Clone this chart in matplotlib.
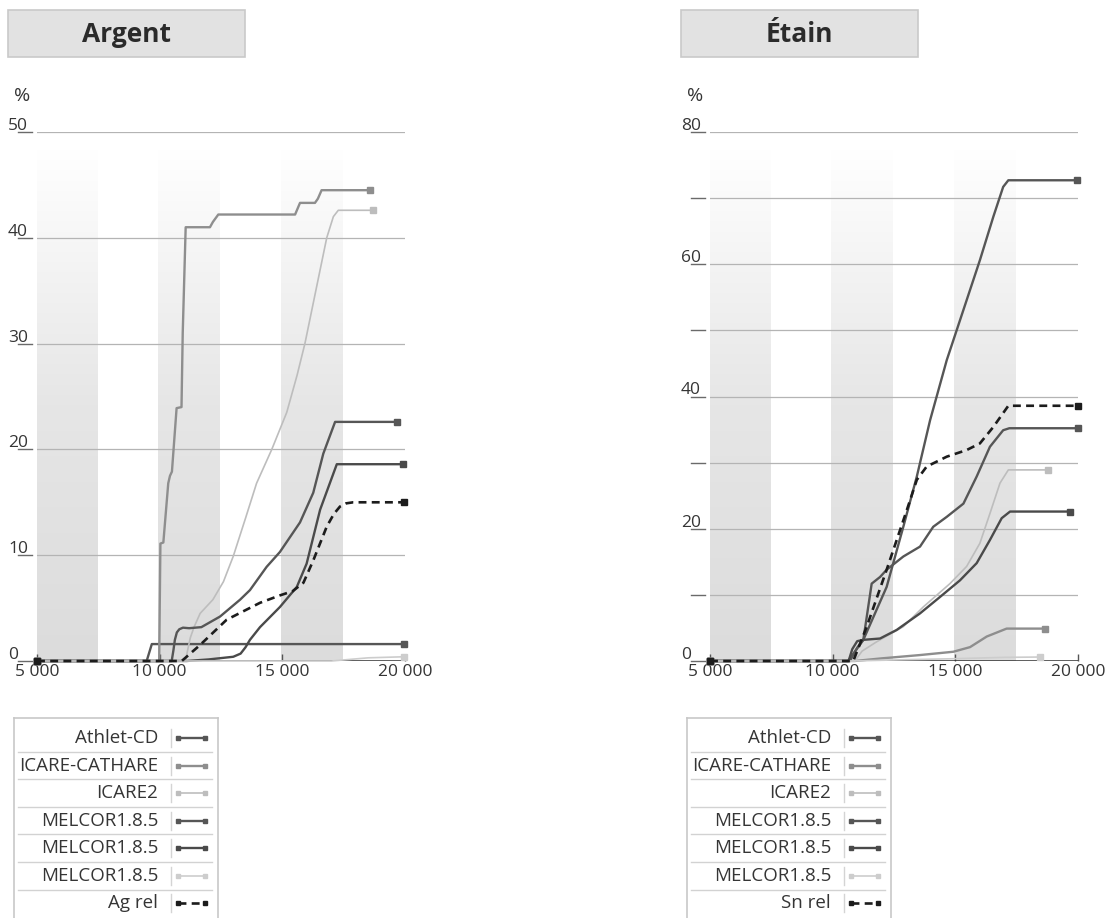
import numpy as np
import matplotlib
matplotlib.use("Agg")
import matplotlib.pyplot as plt
from matplotlib.colors import LinearSegmentedColormap
from matplotlib.patches import Rectangle

plt.rcParams['font.family'] = ['Open Sans', 'DejaVu Sans']

# ---------------------------------------------------------------- data
series_names = ["Athlet-CD", "ICARE-CATHARE", "ICARE2",
                "MELCOR1.8.5", "MELCOR1.8.5", "MELCOR1.8.5"]

# Argent (Ag)
ag_athlet_x = [5000, 9470, 9680, 19950]
ag_athlet_y = [0, 0, 1.6, 1.6]

ag_icare_cathare_x = [5000, 9980, 10030, 10150, 10350, 10420, 10500, 10690, 10890,
                      10940, 11060, 12050, 12170, 12390, 15520, 15720, 16330, 16450,
                      16600, 18570]
ag_icare_cathare_y = [0, 0, 11.1, 11.2, 16.8, 17.5, 17.9, 23.9, 24.0,
                      31.0, 41.0, 41.0, 41.5, 42.2, 42.2, 43.3, 43.3, 43.7,
                      44.5, 44.5]

ag_icare2_x = [5000, 11050, 11120, 11250, 11400, 11650, 12170, 12600, 13000, 13500,
               13950, 14570, 15180, 15600, 15920, 16400, 16810, 17080, 17280, 18710]
ag_icare2_y = [0, 0, 0.8, 2.2, 3.2, 4.5, 5.8, 7.5, 9.9, 13.5,
               16.8, 20.0, 23.5, 27.0, 30.0, 35.4, 40.0, 42.0, 42.6, 42.6]

ag_melcor_a_x = [5000, 10490, 10560, 10620, 10700, 10800, 10950, 11200, 11700, 12460,
                 13280, 13680, 14360, 14900, 15720, 16260, 16670, 17150, 19660]
ag_melcor_a_y = [0, 0, 1.0, 2.0, 2.7, 3.0, 3.15, 3.1, 3.2, 4.2,
                 5.8, 6.7, 8.9, 10.3, 13.1, 15.9, 19.6, 22.6, 22.6]

ag_melcor_b_x = [5000, 11100, 12000, 13000, 13300, 13500, 13680, 14090, 14900, 15590,
                 15990, 16540, 17220, 19930]
ag_melcor_b_y = [0, 0, 0.15, 0.4, 0.7, 1.3, 2.0, 3.2, 5.1, 7.0,
                 9.2, 14.3, 18.6, 18.6]

ag_melcor_c_x = [5000, 17000, 18500, 19950]
ag_melcor_c_y = [0, 0, 0.3, 0.4]

ag_rel_x = [5000, 10900, 11640, 12730, 14090, 14900, 15420, 15860, 16260, 16810,
            17100, 17350, 17600, 17890, 19950]
ag_rel_y = [0, 0, 1.5, 3.9, 5.5, 6.2, 6.6, 7.4, 9.5, 12.7,
            13.9, 14.6, 14.9, 15.0, 15.0]

# Etain (Sn)
sn_athlet_x = [5000, 10630, 11250, 12200, 12880, 13430, 13970, 14650, 15330, 16000,
               16550, 16950, 17160, 19950]
sn_athlet_y = [0, 0, 3.2, 11.2, 20.3, 27.9, 36.4, 45.5, 53.1, 60.6,
               67.2, 71.7, 72.7, 72.7]

sn_icare_cathare_x = [5000, 10900, 12000, 13560, 14920, 15600, 16280, 17090, 18650]
sn_icare_cathare_y = [0, 0, 0.4, 0.9, 1.4, 2.1, 3.7, 4.9, 4.9]

sn_icare2_x = [5000, 10900, 11200, 11790, 12880, 13700, 14780, 15460, 16000, 16410,
               16820, 17160, 18790]
sn_icare2_y = [0, 0, 1.5, 2.9, 5.2, 8.2, 11.7, 14.3, 17.8, 22.3,
               26.9, 28.9, 28.9]

sn_melcor_a_x = [5000, 10700, 11000, 11250, 11590, 11930, 12200, 12880, 13560, 14100,
                 14650, 15330, 15870, 16410, 16950, 17200, 20000]
sn_melcor_a_y = [0, 0, 2.0, 3.2, 11.7, 12.7, 13.8, 15.8, 17.3, 20.3,
                 21.8, 23.8, 27.9, 32.4, 34.9, 35.2, 35.2]

sn_melcor_b_x = [5000, 10650, 10800, 11000, 11250, 11930, 12610, 13560, 14380, 15190,
                 15870, 16410, 16890, 17230, 19670]
sn_melcor_b_y = [0, 0, 1.8, 3.0, 3.2, 3.4, 4.7, 7.2, 9.7, 12.2,
                 14.8, 18.3, 21.6, 22.6, 22.6]

sn_melcor_c_x = [5000, 10800, 13000, 15000, 17000, 18450]
sn_melcor_c_y = [0, 0, 0.2, 0.35, 0.55, 0.6]

sn_rel_x = [5000, 10840, 11390, 12200, 13020, 13430, 13830, 14650, 15460, 16000,
            16550, 17160, 20000]
sn_rel_y = [0, 0, 5.2, 13.8, 22.8, 27.4, 29.4, 30.9, 31.9, 32.9,
            35.4, 38.6, 38.6]

x_ticks = [5000, 10000, 15000, 20000]
ag_y_grid = [10, 20, 30, 40, 50]
ag_y_labels = [0, 10, 20, 30, 40, 50]
sn_y_grid = [10, 20, 30, 40, 50, 60, 70, 80]
sn_y_labels = [0, 20, 40, 60, 80]
bands = [(5000, 7450), (9950, 12450), (14950, 17450)]

# ---------------------------------------------------------------- styles
C_DARK = "#565656"
C_DARK2 = "#4a4a4a"
C_MED = "#8e8e8e"
C_LIGHT = "#bdbdbd"
C_LIGHT2 = "#cdcdcd"
C_REL = "#1c1c1c"
TXT = "#353535"

styles = [
    dict(color=C_DARK, lw=1.7, ls="-"),
    dict(color=C_MED, lw=1.7, ls="-"),
    dict(color=C_LIGHT, lw=1.2, ls="-"),
    dict(color=C_DARK, lw=1.7, ls="-"),
    dict(color=C_DARK2, lw=1.7, ls="-"),
    dict(color=C_LIGHT2, lw=1.2, ls="-"),
    dict(color=C_REL, lw=1.9, ls=(0, (3, 2))),
]

W, H = 1110, 918
fig = plt.figure(figsize=(W / 100, H / 100), dpi=100)


def fx(px):
    return px / W


def fy(py):
    return 1 - py / H


band_cmap = LinearSegmentedColormap.from_list("band", ["#dcdcdc", "#e6e6e6", "#ffffff"])


def panel(left_px, title, ymax, grid, labels, data, rel_name):
    ax = fig.add_axes([fx(left_px), fy(661), 368 / W, 529 / H])
    ax.set_xlim(5000, 20000)
    ax.set_ylim(0, ymax)
    for s in ax.spines.values():
        s.set_visible(False)

    band_top = ymax * 0.966
    grad = np.linspace(0, 1, 256).reshape(-1, 1)
    for x0, x1 in bands:
        ax.imshow(grad, extent=[x0, x1, 0, band_top], origin="lower",
                  aspect="auto", cmap=band_cmap, zorder=0, interpolation="bilinear")
    ax.set_xlim(5000, 20000)
    ax.set_ylim(0, ymax)

    for g in grid:
        ax.axhline(g, color="#b4b4b4", lw=0.9, zorder=1)

    ytr = ax.get_yaxis_transform()
    for g in [0] + list(grid):
        ax.plot([-19 / 368, -5 / 368], [g, g], color="#6a6a6a", lw=1.0,
                transform=ytr, clip_on=False)
    for v in labels:
        ax.annotate(f"{v}", xy=(-29 / 368, v), xycoords=ytr, xytext=(0, 2),
                    textcoords="offset pixels", ha="left", va="baseline",
                    fontsize=12.5, color=TXT, annotation_clip=False)
    ax.annotate("%", xy=(-23 / 368, 1), xycoords="axes fraction",
                xytext=(0, 31), textcoords="offset pixels", ha="left",
                va="baseline", fontsize=14, color=TXT, annotation_clip=False)

    ax.set_yticks([])
    ax.set_xticks(x_ticks)
    ax.set_xticklabels([f"{t:,}".replace(",", " ") for t in x_ticks])
    ax.tick_params(axis="x", direction="in", length=5, width=1, color="#555555",
                   labelsize=12.5, labelcolor=TXT, pad=2)

    ax.axhline(0, color="#2e2e2e", lw=1.8, zorder=2)

    for i, (xs, ys) in enumerate(data):
        st = styles[i]
        ax.plot(xs, ys, color=st["color"], lw=st["lw"], ls=st["ls"],
                zorder=3 + (i == 6), clip_on=False, solid_joinstyle="round")
        ax.plot([xs[0], xs[-1]], [ys[0], ys[-1]], ls="none", marker="s",
                ms=4.2, color=st["color"], zorder=4, clip_on=False)

    # title box
    fig.patches.append(Rectangle((fx(left_px - 29), fy(57)), 237 / W, 47 / H,
                                 transform=fig.transFigure, facecolor="#e2e2e2",
                                 edgecolor="#c9c9c9", lw=1.2))
    fig.text(fx(left_px - 29 + 118.5), fy(35), title, ha="center", va="center",
             fontsize=19, fontweight="bold", color="#2b2b2b")

    # legend table
    lg = fig.add_axes([fx(left_px - 23), 0, 204 / W, (H - 718) / H])
    lg.set_xlim(0, 204)
    lg.set_ylim(200, 0)
    lg.set_xticks([])
    lg.set_yticks([])
    for k, s in lg.spines.items():
        s.set_color("#c8c8c8")
        s.set_linewidth(1.2)
    lg.spines["bottom"].set_visible(False)
    names = series_names + [rel_name]
    for i, name in enumerate(names):
        yc = 20 + 27.55 * i
        lg.text(144, yc, name, ha="right", va="center", fontsize=13.5, color=TXT)
        lg.plot([157, 157], [yc - 9, yc + 9], color="#d4d4d4", lw=1)
        st = styles[i]
        lg.plot([164, 191], [yc, yc], color=st["color"], lw=st["lw"], ls=st["ls"])
        lg.plot([164, 191], [yc, yc], ls="none", marker="s", ms=3.2,
                color=st["color"])
        if i < len(names) - 1:
            lg.plot([4, 198], [yc + 13.8, yc + 13.8], color="#d2d2d2", lw=1)
    return ax


ag_data = [(ag_athlet_x, ag_athlet_y), (ag_icare_cathare_x, ag_icare_cathare_y),
           (ag_icare2_x, ag_icare2_y), (ag_melcor_a_x, ag_melcor_a_y),
           (ag_melcor_b_x, ag_melcor_b_y), (ag_melcor_c_x, ag_melcor_c_y),
           (ag_rel_x, ag_rel_y)]
sn_data = [(sn_athlet_x, sn_athlet_y), (sn_icare_cathare_x, sn_icare_cathare_y),
           (sn_icare2_x, sn_icare2_y), (sn_melcor_a_x, sn_melcor_a_y),
           (sn_melcor_b_x, sn_melcor_b_y), (sn_melcor_c_x, sn_melcor_c_y),
           (sn_rel_x, sn_rel_y)]

panel(37, "Argent", 50, ag_y_grid, ag_y_labels, ag_data, "Ag rel")
panel(710, "Étain", 80, sn_y_grid, sn_y_labels, sn_data, "Sn rel")

fig.savefig("out.png", dpi=100)
